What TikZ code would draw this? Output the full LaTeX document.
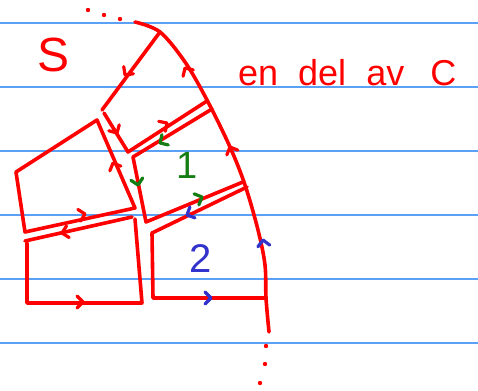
\documentclass[tikz,border=0pt]{standalone}
\usepackage{fontspec}
\setmainfont{Liberation Sans}
\definecolor{rule}{RGB}{90,160,245}
\definecolor{ink}{RGB}{255,0,0}
\definecolor{gink}{RGB}{20,125,20}
\definecolor{bink}{RGB}{50,50,205}
\tikzset{
  ruled/.style={rule, line width=1.6pt},
  edge/.style={ink, line width=3.6pt, line cap=round, line join=round},
  chev/.pic={\draw[line width=3.2pt, line cap=round, line join=round] (-6,-6) -- (0,0) -- (-6,6);},
  dotted mark/.style={ink, fill=ink},
  lbl/.style={inner sep=0pt, anchor=base west}
}
\begin{document}
\begin{tikzpicture}[x=1pt,y=-1pt]
\useasboundingbox (0,0) rectangle (478,390);
% ruled lines
\foreach \yy in {23,87,151,215,279,343} \draw[ruled] (0,\yy) -- (478,\yy);
% boundary curve C
\draw[edge] plot[smooth, tension=0.55] coordinates {(135,22) (160,32) (185,62) (207,100) (230,147) (245,185) (258,230) (265,265) (266,298) (269,332)};
% dots
\foreach \p in {(88,10),(104,15),(120,19),(266,346),(265,364),(260,383)} \fill[dotted mark] \p circle (2.2);
% top cell
\draw[edge] (160,32) -- (102,110);
\draw[edge] (104,113) -- (128,152) -- (207,101);
% cell 1
\draw[edge] (212,109) -- (133,157) -- (146,222) -- (243,182);
% cell 2
\draw[edge] (247,187) -- (152,233) -- (153,298) -- (266,298);
% left quadrilateral
\draw[edge] (135,208) -- (97,120) -- (16,172) -- (25,232) -- cycle;
% lower left rectangle
\draw[edge] (25,241) -- (132,217);
\draw[edge] (135,219) -- (142,303) -- (27,303) -- (27,243);
% arrows
\pic[ink, rotate=-126.6] at (125,75) {chev};
\pic[ink, rotate=-60.3] at (117,133) {chev};
\pic[ink, rotate=33.7] at (167,123) {chev};
\pic[gink, rotate=-148.2] at (160,143) {chev};
\pic[ink, rotate=122] at (185,68) {chev};
\pic[ink, rotate=113] at (230,147) {chev};
\pic[ink, rotate=113] at (113,163) {chev};
\pic[gink, rotate=-78.7] at (138,185) {chev};
\pic[gink, rotate=23.1] at (202,197) {chev};
\pic[bink, rotate=-154.7] at (187,215) {chev};
\pic[ink, rotate=12.5] at (85,214) {chev};
\pic[ink, rotate=-167.4] at (62,233) {chev};
\pic[ink, rotate=0] at (83,302) {chev};
\pic[bink, rotate=0] at (211,298) {chev};
\pic[bink, rotate=98] at (263,240) {chev};
% labels
\node[lbl, ink, font=\fontsize{48}{48}\selectfont] (S) at (37,72) {S};
\node[lbl, ink, font=\fontsize{36}{36}\selectfont] (C) at (238,86) {en\hspace{20pt}del\hspace{20pt}av\hspace{26pt}C};
\node[lbl, gink, font=\fontsize{38}{38}\selectfont] (one) at (176,178) {1};
\node[lbl, bink, font=\fontsize{40}{40}\selectfont] (two) at (189,272) {2};
\end{tikzpicture}
\end{document}
